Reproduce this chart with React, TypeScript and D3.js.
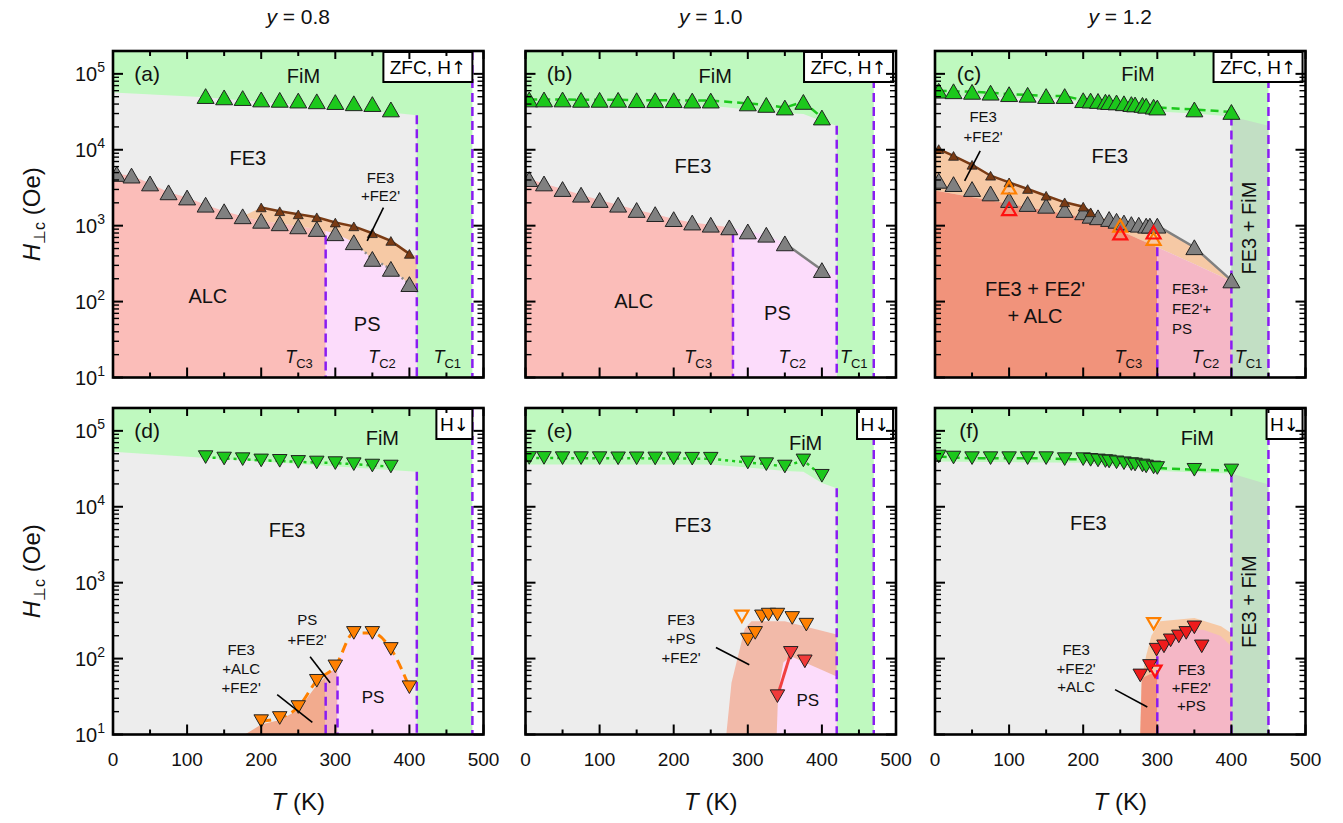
import React from "react";
import * as d3 from "d3";

type Pt = [number, number];

const FONT = "'Liberation Sans', Arial, Helvetica, sans-serif";
const ARROW_FONT = "'DejaVu Sans', sans-serif";
const H_MIN = 10;
const H_MAX = 2e5;

const columnTitles = ["0.8", "1.0", "1.2"];
const xTicks = [0, 100, 200, 300, 400, 500];
const yDecades = [1, 2, 3, 4, 5];

// ---------- y = 0.8, ZFC H-up ----------
const aGreenT = [125, 150, 175, 200, 225, 250, 275, 300, 325, 350, 375];
const aGreenH = [51000, 49000, 48000, 46000, 45500, 44500, 43500, 42500, 41000, 40000, 34000];
const aGrayT = [5, 25, 50, 75, 100, 125, 150, 175, 200, 225, 250, 275, 300, 325, 350, 375, 400];
const aGrayH = [4800, 4570, 3600, 2750, 2350, 1890, 1550, 1330, 1160, 1075, 980, 905, 795, 605, 365, 270, 170];
const aBrownT = [200, 225, 250, 275, 300, 325, 350, 375, 400];
const aBrownH = [1740, 1550, 1410, 1290, 1100, 980, 795, 630, 425];

// ---------- y = 1.0, ZFC H-up ----------
const bGreenT = [5, 25, 50, 75, 100, 125, 150, 175, 200, 225, 250, 300, 325, 350, 375, 400];
const bGreenH = [46000, 46000, 46000, 45500, 45500, 45500, 45000, 45000, 45000, 44500, 44500, 40800, 39000, 36000, 42700, 26600];
const bGrayT = [5, 25, 50, 75, 100, 125, 150, 175, 200, 225, 250, 275, 300, 325, 350, 400];
const bGrayH = [4110, 3600, 3040, 2560, 2180, 1890, 1610, 1420, 1220, 1100, 1030, 950, 840, 760, 585, 260];

// ---------- y = 1.2, ZFC H-up ----------
const cGreenT = [5, 25, 50, 75, 100, 125, 150, 175, 200, 210, 220, 230, 235, 245, 255, 265, 270, 280, 285, 295, 300, 350, 400];
const cGreenH = [60000, 59000, 58000, 56500, 54000, 53000, 51000, 51000, 45000, 44500, 44000, 43000, 42500, 42000, 41000, 40000, 39500, 39000, 38000, 37000, 36000, 34000, 31500];
const cGrayT = [5, 25, 50, 75, 100, 125, 150, 175, 200, 210, 220, 235, 245, 255, 265, 275, 285, 290, 300, 350, 400];
const cGrayH = [3900, 3530, 3040, 2660, 2180, 1930, 1830, 1610, 1500, 1350, 1290, 1225, 1160, 1100, 1050, 1030, 1000, 1000, 1000, 520, 190];
const cBrownT = [5, 25, 50, 75, 100, 125, 150, 175, 200, 210];
const cBrownH = [10200, 8300, 6340, 4550, 3720, 3040, 2480, 2030, 1780, 1500];
const cOpenOrangeT = [100, 250, 295];
const cOpenOrangeH = [3190, 1000, 670];
const cOpenRedT = [100, 250, 295];
const cOpenRedH = [1660, 795, 815];

// ---------- y = 0.8, H-down ----------
const dGreenT = [125, 150, 175, 200, 225, 250, 275, 300, 325, 350, 375];
const dGreenH = [45100, 43200, 42400, 40800, 40300, 39000, 38300, 37600, 36400, 34900, 33900];
const dOrangeT = [200, 225, 250, 275, 300, 325, 350, 375, 400];
const dOrangeH = [15, 16.5, 23, 51, 79, 218, 218, 134, 42];

// ---------- y = 1.0, H-down ----------
const eGreenT = [5, 25, 50, 75, 100, 125, 150, 175, 200, 225, 250, 300, 325, 350, 375, 400];
const eGreenH = [44000, 44000, 43700, 43700, 43700, 43500, 43500, 43300, 43300, 43000, 43000, 38300, 36400, 33900, 40800, 25600];
const eOrangeT = [300, 310, 319, 328, 340, 360, 379];
const eOrangeH = [178, 218, 360, 380, 380, 343, 280];
const eOpenOrangeT = [292];
const eOpenOrangeH = [360];
const eRedT = [340, 358, 377];
const eRedH = [32, 119, 92];

// ---------- y = 1.2, H-down ----------
const fGreenT = cGreenT;
const fGreenH = [45900, 44500, 43700, 43700, 43700, 43700, 43700, 42400, 42400, 41500, 40800, 40000, 39500, 38500, 37500, 36500, 36000, 35000, 34000, 33000, 32400, 30700, 30100];
const fRedT = [277, 290, 299, 309, 318, 329, 339, 350, 360];
const fRedH = [60, 80, 131, 145, 174, 196, 218, 258, 145];
const fOpenOrangeT = [295];
const fOpenOrangeH = [288];
const fOpenRedT = [297];
const fOpenRedH = [68];

const zip = (t: number[], h: number[]): Pt[] => t.map((v, i) => [v, h[i]] as Pt);

// ---------- phase boundaries (T, H) ----------
const aFimEdge: Pt[] = [[0, 57000], [125, 49000], [375, 31000], [410, 28500]];
const aGrayEdge: Pt[] = [[0, 4600], ...zip(aGrayT, aGrayH), [410, 150]];
const aBrownEdge: Pt[] = [[175, 1330], ...zip(aBrownT, aBrownH), [410, 400]];

const bFimEdge: Pt[] = [[0, 38000], [250, 38000], [300, 34000], [350, 30500], [375, 29600], [400, 24000], [420, 20700]];
const bGrayEdge: Pt[] = [[0, 4300], ...zip(bGrayT, bGrayH), [420, 220]];

const cFimEdge: Pt[] = [[0, 52000], [100, 49000], [175, 46000], [200, 42000], [250, 38000], [300, 32000], [350, 30000], [400, 27500], [450, 20700]];
const cBandTop: Pt[] = [[0, 11000], ...zip(cBrownT, cBrownH), ...zip(cGrayT, cGrayH).filter((p) => p[0] > 210)];
const cBandBottom: Pt[] = [[0, 2900], [100, 1950], [200, 1290], [250, 860], [300, 520], [350, 313], [400, 185]];

const dFimEdge: Pt[] = [[0, 53000], [410, 29000]];
const dSalmonEdge: Pt[] = [[178, 10], [200, 13.5], [225, 15.5], [250, 21], [275, 45], [287, 58]];
const dStripEdge: Pt[] = [[287, 58], [303, 80]];
const dPsEdge: Pt[] = [[303, 95], [325, 210], [350, 210], [375, 130], [400, 42], [407, 20], [410, 10]];

const eFimEdge: Pt[] = [[0, 36000], [250, 36000], [300, 33000], [350, 29500], [375, 29000], [400, 20500], [420, 17600]];
const eOuterEdge: Pt[] = [[271, 10], [278, 48], [288, 120], [296, 250], [305, 310], [350, 310], [376, 266], [420, 207]];
const eInnerEdge: Pt[] = [[339, 10], [341, 36], [348, 89], [358, 107], [420, 58]];

const fFimEdge: Pt[] = [[0, 39500], [200, 38000], [300, 29500], [400, 27500], [450, 19600]];
const fCapEdge: Pt[] = [[277, 10], [279, 55], [285, 110], [292, 200], [304, 310], [350, 343], [386, 266], [400, 215]];
const fSalmonEdge: Pt[] = [[277, 10], [279, 55], [290, 62], [300, 65]];
const fPinkEdge: Pt[] = [[300, 145], [320, 200], [340, 240], [362, 240], [385, 200], [400, 145]];

// ---------- geometry helpers in data space ----------
function edgeAt(edge: Pt[], t: number): number {
  if (t <= edge[0][0]) return edge[0][1];
  for (let i = 1; i < edge.length; i++) {
    const [t1, h1] = edge[i - 1];
    const [t2, h2] = edge[i];
    if (t <= t2) {
      const f = t2 === t1 ? 1 : (t - t1) / (t2 - t1);
      return Math.pow(10, Math.log10(h1) + f * (Math.log10(h2) - Math.log10(h1)));
    }
  }
  return edge[edge.length - 1][1];
}
function clipEdge(edge: Pt[], t0: number, t1: number): Pt[] {
  return [[t0, edgeAt(edge, t0)], ...edge.filter((p) => p[0] > t0 && p[0] < t1), [t1, edgeAt(edge, t1)]];
}
const under = (edge: Pt[], t0: number, t1: number): Pt[] => [[t0, H_MIN], ...clipEdge(edge, t0, t1), [t1, H_MIN]];
const between = (up: Pt[], lo: Pt[], t0: number, t1: number): Pt[] => [...clipEdge(up, t0, t1), ...clipEdge(lo, t0, t1).reverse()];
const slab = (t0: number, t1: number): Pt[] => [[t0, H_MIN], [t0, H_MAX], [t1, H_MAX], [t1, H_MIN]];

const C = {
  fim: "#bff9bf",
  fe3: "#ededed",
  alc: "#fbbdb9",
  ps: "#fcdcfb",
  band: "#f6c9a5",
  mixAlc: "#f1937b",
  mixPs: "#f5b7c6",
  fe3Fim: "#c2dfc4",
  dSalmon: "#f2ab8e",
  dStrip: "#f3b6bd",
  eArch: "#f2baa9",
  white: "#ffffff",
  tc: "#8a1cf2",
  green: "#1cc81c",
  gray: "#808080",
  brown: "#7a3b14",
  orange: "#ff8000",
  red: "#f03a3a",
  red2: "#ee1c1c",
};

interface Region { c: string; p: Pt[] }
interface Conn { pts: Pt[]; color: string; width: number; dash?: string; curve?: boolean }
interface Marker { pts: Pt[]; up: boolean; w: number; fill: string; stroke: string; sw: number }
interface Label { t: number; h: number; lines: string[]; size: number; lh?: number; anchor?: string; rotate?: boolean }
interface PanelSpec {
  col: number;
  row: number;
  letter: string;
  boxText: string;
  boxArrow: string;
  boxRight: number;
  boxW: number;
  regions: Region[];
  tc: Pt[];
  conns: Conn[];
  markers: Marker[];
  labels: Label[];
  leaders: Pt[][];
  tcLabels: [number, string][];
}

const big = (pts: Pt[], fill: string): Marker => ({ pts, up: true, w: 17, fill, stroke: "#222", sw: 1 });
const small = (pts: Pt[], fill: string): Marker => ({ pts, up: true, w: 10, fill, stroke: "#222", sw: 0.8 });
const down = (pts: Pt[], fill: string): Marker => ({ pts, up: false, w: 14.5, fill, stroke: "#222", sw: 1 });
const openUp = (pts: Pt[], color: string): Marker => ({ pts, up: true, w: 14, fill: "none", stroke: color, sw: 2.2 });
const openDown = (pts: Pt[], color: string): Marker => ({ pts, up: false, w: 13, fill: "none", stroke: color, sw: 2.2 });

const aGray = zip(aGrayT, aGrayH);
const bGray = zip(bGrayT, bGrayH);
const cGray = zip(cGrayT, cGrayH);

const panels: PanelSpec[] = [
  {
    col: 0, row: 0, letter: "(a)", boxText: "ZFC, H", boxArrow: "\u2191", boxRight: 485, boxW: 89,
    regions: [
      { c: C.fim, p: slab(0, 500) },
      { c: C.white, p: slab(485, 500) },
      { c: C.fe3, p: under(aFimEdge, 0, 410) },
      { c: C.alc, p: under(aGrayEdge, 0, 287) },
      { c: C.ps, p: under(aGrayEdge, 287, 410) },
      { c: C.band, p: between(aBrownEdge, aGrayEdge, 175, 410) },
    ],
    tc: [[287, 740], [410, 28500], [485, H_MAX]],
    conns: [
      { pts: zip(aBrownT, aBrownH), color: C.brown, width: 2.5 },
      { pts: aGray.filter((p) => p[0] >= 325), color: "#8c8c8c", width: 2.5, dash: "2,3" },
    ],
    markers: [big(zip(aGreenT, aGreenH), C.green), big(aGray, C.gray), small(zip(aBrownT, aBrownH), C.brown)],
    labels: [
      { t: 257, h: 9.4e4, lines: ["FiM"], size: 20 },
      { t: 182, h: 7850, lines: ["FE3"], size: 20 },
      { t: 361, h: 4300, lines: ["FE3", "+FE2'"], size: 15, lh: 18 },
      { t: 128, h: 120, lines: ["ALC"], size: 20 },
      { t: 343, h: 51, lines: ["PS"], size: 20 },
    ],
    leaders: [[[365, 1725], [343, 630]]],
    tcLabels: [[251, "C3"], [363, "C2"], [451, "C1"]],
  },
  {
    col: 1, row: 0, letter: "(b)", boxText: "ZFC, H", boxArrow: "\u2191", boxRight: 496, boxW: 89,
    regions: [
      { c: C.fim, p: slab(0, 500) },
      { c: C.white, p: slab(470, 500) },
      { c: C.fe3, p: under(bFimEdge, 0, 420) },
      { c: C.alc, p: under(bGrayEdge, 0, 280) },
      { c: C.ps, p: under(bGrayEdge, 280, 420) },
    ],
    tc: [[280, 780], [420, 20700], [470, H_MAX]],
    conns: [
      { pts: zip(bGreenT, bGreenH), color: C.green, width: 2.5, dash: "8,5" },
      { pts: bGray.filter((p) => p[0] >= 350), color: "#808080", width: 2.5 },
    ],
    markers: [big(zip(bGreenT, bGreenH), C.green), big(bGray, C.gray)],
    labels: [
      { t: 256, h: 9.4e4, lines: ["FiM"], size: 20 },
      { t: 226, h: 6170, lines: ["FE3"], size: 20 },
      { t: 146, h: 103, lines: ["ALC"], size: 20 },
      { t: 340, h: 72, lines: ["PS"], size: 20 },
    ],
    leaders: [],
    tcLabels: [[233, "C3"], [360, "C2"], [443, "C1"]],
  },
  {
    col: 2, row: 0, letter: "(c)", boxText: "ZFC, H", boxArrow: "\u2191", boxRight: 496, boxW: 89,
    regions: [
      { c: C.fim, p: slab(0, 500) },
      { c: C.white, p: slab(450, 500) },
      { c: C.fe3, p: under(cFimEdge, 0, 400) },
      { c: C.fe3Fim, p: under(cFimEdge, 400, 450) },
      { c: C.band, p: between(cBandTop, cBandBottom, 0, 400) },
      { c: C.mixAlc, p: under(cBandBottom, 0, 300) },
      { c: C.mixPs, p: under(cBandBottom, 300, 400) },
    ],
    tc: [[300, 520], [400, 27500], [450, H_MAX]],
    conns: [
      { pts: zip(cGreenT, cGreenH), color: C.green, width: 2.5, dash: "8,5" },
      { pts: zip(cBrownT, cBrownH), color: C.brown, width: 2.5 },
      { pts: cGray.filter((p) => p[0] >= 300), color: "#808080", width: 2.5 },
    ],
    markers: [
      big(zip(cGreenT, cGreenH), C.green),
      big(cGray, C.gray),
      small(zip(cBrownT, cBrownH), C.brown),
      openUp(zip(cOpenOrangeT, cOpenOrangeH), C.orange),
      openUp(zip(cOpenRedT, cOpenRedH), "#ff1010"),
    ],
    labels: [
      { t: 274, h: 1e5, lines: ["FiM"], size: 20 },
      { t: 236, h: 8300, lines: ["FE3"], size: 20 },
      { t: 65, h: 27000, lines: ["FE3", "+FE2'"], size: 15, lh: 20 },
      { t: 135, h: 148, lines: ["FE3 + FE2'", "+ ALC"], size: 20, lh: 27 },
      { t: 320, h: 148, lines: ["FE3+", "FE2'+", "PS"], size: 15, lh: 20, anchor: "start" },
      { t: 423, h: 930, lines: ["FE3 + FiM"], size: 20, rotate: true },
    ],
    leaders: [[[61, 9700], [40, 3900]]],
    tcLabels: [[261, "C3"], [365, "C2"], [423, "C1"]],
  },
  {
    col: 0, row: 1, letter: "(d)", boxText: "H", boxArrow: "\u2193", boxRight: 485, boxW: 36,
    regions: [
      { c: C.fim, p: slab(0, 500) },
      { c: C.white, p: slab(485, 500) },
      { c: C.fe3, p: under(dFimEdge, 0, 410) },
      { c: C.dSalmon, p: under(dSalmonEdge, 178, 287) },
      { c: C.dStrip, p: under(dStripEdge, 287, 303) },
      { c: C.ps, p: under(dPsEdge, 303, 410) },
    ],
    tc: [[287, 48], [303, 58], [410, 29000], [485, H_MAX]],
    conns: [
      { pts: zip(dGreenT, dGreenH), color: C.green, width: 2.5, dash: "3,4" },
      { pts: zip(dOrangeT, dOrangeH), color: C.orange, width: 3, dash: "10,6", curve: true },
    ],
    markers: [down(zip(dGreenT, dGreenH), C.green), down(zip(dOrangeT, dOrangeH), C.orange)],
    labels: [
      { t: 363.5, h: 81000, lines: ["FiM"], size: 20 },
      { t: 235, h: 4980, lines: ["FE3"], size: 20 },
      { t: 262, h: 326, lines: ["PS", "+FE2'"], size: 15, lh: 20 },
      { t: 173, h: 131, lines: ["FE3", "+ALC", "+FE2'"], size: 15, lh: 19 },
      { t: 351, h: 31.6, lines: ["PS"], size: 17 },
    ],
    leaders: [[[266, 106], [293, 48]], [[221.6, 33.6], [269, 14.4]]],
    tcLabels: [],
  },
  {
    col: 1, row: 1, letter: "(e)", boxText: "H", boxArrow: "\u2193", boxRight: 496, boxW: 36,
    regions: [
      { c: C.fim, p: slab(0, 500) },
      { c: C.white, p: slab(470, 500) },
      { c: C.fe3, p: under(eFimEdge, 0, 420) },
      { c: C.eArch, p: under(eOuterEdge, 271, 420) },
      { c: C.ps, p: under(eInnerEdge, 339, 420) },
    ],
    tc: [[420, 17600], [470, H_MAX]],
    conns: [
      { pts: zip(eGreenT, eGreenH), color: C.green, width: 2.5, dash: "3,4" },
      { pts: zip(eRedT, eRedH).slice(0, 2), color: "#f04040", width: 3 },
    ],
    markers: [
      down(zip(eGreenT, eGreenH), C.green),
      down(zip(eOrangeT, eOrangeH), C.orange),
      openDown(zip(eOpenOrangeT, eOpenOrangeH), C.orange),
      down(zip(eRedT, eRedH), C.red),
    ],
    labels: [
      { t: 378, h: 69500, lines: ["FiM"], size: 20 },
      { t: 226, h: 5800, lines: ["FE3"], size: 20 },
      { t: 210, h: 326, lines: ["FE3", "+PS", "+FE2'"], size: 15, lh: 19 },
      { t: 381, h: 29, lines: ["PS"], size: 17 },
    ],
    leaders: [[[257, 140], [302, 83]]],
    tcLabels: [],
  },
  {
    col: 2, row: 1, letter: "(f)", boxText: "H", boxArrow: "\u2193", boxRight: 496, boxW: 36,
    regions: [
      { c: C.fim, p: slab(0, 500) },
      { c: C.white, p: slab(450, 500) },
      { c: C.fe3, p: under(fFimEdge, 0, 400) },
      { c: C.fe3Fim, p: under(fFimEdge, 400, 450) },
      { c: C.band, p: under(fCapEdge, 277, 400) },
      { c: C.mixAlc, p: under(fSalmonEdge, 277, 300) },
      { c: C.mixPs, p: under(fPinkEdge, 300, 400) },
    ],
    tc: [[300, 107], [400, 27500], [450, H_MAX]],
    conns: [{ pts: zip(fGreenT, fGreenH), color: C.green, width: 2.5, dash: "8,5" }],
    markers: [
      down(zip(fGreenT, fGreenH), C.green),
      down(zip(fRedT, fRedH), C.red2),
      openDown(zip(fOpenOrangeT, fOpenOrangeH), C.orange),
      openDown(zip(fOpenRedT, fOpenRedH), "#ff1010"),
    ],
    labels: [
      { t: 354, h: 81000, lines: ["FiM"], size: 20 },
      { t: 207, h: 6170, lines: ["FE3"], size: 20 },
      { t: 190.5, h: 131, lines: ["FE3", "+FE2'", "+ALC"], size: 15, lh: 18.5 },
      { t: 346, h: 72, lines: ["FE3", "+FE2'", "+PS"], size: 15, lh: 18 },
      { t: 423, h: 562, lines: ["FE3 + FiM"], size: 20, rotate: true },
    ],
    leaders: [[[243, 39], [286.5, 23]]],
    tcLabels: [],
  },
];

const PANEL_LEFT = [113, 525.5, 935];
const PANEL_TOP = [51, 408];
const PW = 370.5;
const PH = 326.5;

function triPath(w: number, up: boolean): string {
  const h = w * 0.87;
  return up
    ? `M0,${-h / 2}L${w / 2},${h / 2}L${-w / 2},${h / 2}Z`
    : `M0,${h / 2}L${w / 2},${-h / 2}L${-w / 2},${-h / 2}Z`;
}

function Panel({ spec }: { spec: PanelSpec }) {
  const left = PANEL_LEFT[spec.col];
  const top = PANEL_TOP[spec.row];
  const x = d3.scaleLinear().domain([0, 500]).range([0, PW]);
  const y = d3.scaleLog().domain([H_MIN, H_MAX]).range([PH, 0]);
  const poly = d3.line<Pt>().x((d) => x(d[0])).y((d) => y(d[1]));
  const smooth = d3.line<Pt>().x((d) => x(d[0])).y((d) => y(d[1])).curve(d3.curveMonotoneX);
  const clipId = `clip-${spec.letter.replace(/[()]/g, "")}`;

  const minorY: number[] = [];
  for (let n = 1; n <= 4; n++) for (let k = 2; k <= 9; k++) minorY.push(k * Math.pow(10, n));
  const majorY = yDecades.map((n) => Math.pow(10, n));
  const xMajor = d3.range(0, 501, 100);
  const xMinor = d3.range(50, 500, 100);

  const boxX = x(spec.boxRight) - spec.boxW;

  return (
    <g transform={`translate(${left},${top})`}>
      <defs>
        <clipPath id={clipId}>
          <rect x={0} y={0} width={PW} height={PH} />
        </clipPath>
      </defs>
      <g clipPath={`url(#${clipId})`}>
        {spec.regions.map((r, i) => (
          <path key={`r${i}`} d={poly(r.p) + "Z"} fill={r.c} stroke="none" />
        ))}
        {spec.tc.map(([t, from], i) => (
          <line key={`tc${i}`} x1={x(t)} x2={x(t)} y1={y(from)} y2={PH} stroke={C.tc} strokeWidth={2.5} strokeDasharray="9,5" />
        ))}
        {spec.conns.map((c, i) => (
          <path
            key={`c${i}`}
            d={(c.curve ? smooth(c.pts) : poly(c.pts)) || ""}
            fill="none"
            stroke={c.color}
            strokeWidth={c.width}
            strokeDasharray={c.dash}
          />
        ))}
        {spec.markers.map((m, i) =>
          m.pts.map((p, j) => (
            <path
              key={`m${i}-${j}`}
              d={triPath(m.w, m.up)}
              transform={`translate(${x(p[0])},${y(p[1])})`}
              fill={m.fill}
              stroke={m.stroke}
              strokeWidth={m.sw}
              strokeLinejoin="miter"
            />
          ))
        )}
      </g>
      {spec.leaders.map((l, i) => (
        <line key={`l${i}`} x1={x(l[0][0])} y1={y(l[0][1])} x2={x(l[1][0])} y2={y(l[1][1])} stroke="#000" strokeWidth={1.6} />
      ))}
      {spec.labels.map((lb, i) => {
        const cx = x(lb.t);
        const cy = y(lb.h);
        if (lb.rotate) {
          return (
            <text key={`t${i}`} transform={`translate(${cx + lb.size * 0.36},${cy}) rotate(-90)`} textAnchor="middle" fontSize={lb.size} fontFamily={FONT} fill="#111">
              {lb.lines[0]}
            </text>
          );
        }
        const lh = lb.lh || lb.size * 1.2;
        return (
          <text key={`t${i}`} x={cx} y={cy + lb.size * 0.36} textAnchor={lb.anchor || "middle"} fontSize={lb.size} fontFamily={FONT} fill="#111">
            {lb.lines.map((s, k) => (
              <tspan key={k} x={cx} dy={k === 0 ? 0 : lh}>
                {s}
              </tspan>
            ))}
          </text>
        );
      })}
      {spec.tcLabels.map(([t, sub], i) => (
        <text key={`tcl${i}`} x={x(t)} y={y(15.3)} textAnchor="middle" fontSize={18} fontFamily={FONT} fill="#111">
          <tspan fontStyle="italic">T</tspan>
          <tspan fontSize={13} dy={5}>
            {sub}
          </tspan>
        </text>
      ))}
      <text x={x(46)} y={y(1e5) + 7.5} textAnchor="middle" fontSize={21} fontFamily={FONT} fill="#111">
        {spec.letter}
      </text>
      <rect x={boxX} y={1} width={spec.boxW} height={30} fill="#fff" stroke="#000" strokeWidth={2} />
      <text x={boxX + spec.boxW / 2} y={23} textAnchor="middle" fontSize={19} fontFamily={FONT} fill="#000">
        <tspan>{spec.boxText}</tspan>
        <tspan fontFamily={ARROW_FONT} fontSize={18}>
          {spec.boxArrow}
        </tspan>
      </text>
      {majorY.map((v) => (
        <g key={`my${v}`}>
          <line x1={0} x2={10} y1={y(v)} y2={y(v)} stroke="#000" strokeWidth={2} />
          <line x1={PW - 10} x2={PW} y1={y(v)} y2={y(v)} stroke="#000" strokeWidth={2} />
        </g>
      ))}
      {minorY.map((v) => (
        <g key={`ny${v}`}>
          <line x1={0} x2={6} y1={y(v)} y2={y(v)} stroke="#000" strokeWidth={1.4} />
          <line x1={PW - 6} x2={PW} y1={y(v)} y2={y(v)} stroke="#000" strokeWidth={1.4} />
        </g>
      ))}
      {xMajor.map((v) => (
        <g key={`mx${v}`}>
          <line x1={x(v)} x2={x(v)} y1={PH} y2={PH - 10} stroke="#000" strokeWidth={2} />
          <line x1={x(v)} x2={x(v)} y1={0} y2={8} stroke="#000" strokeWidth={2} />
        </g>
      ))}
      {xMinor.map((v) => (
        <g key={`nx${v}`}>
          <line x1={x(v)} x2={x(v)} y1={PH} y2={PH - 5} stroke="#000" strokeWidth={2} />
          <line x1={x(v)} x2={x(v)} y1={0} y2={5} stroke="#000" strokeWidth={2} />
        </g>
      ))}
      <rect x={0} y={0} width={PW} height={PH} fill="none" stroke="#000" strokeWidth={2.6} />
      {spec.col === 0 &&
        yDecades.map((n) => (
          <text key={`yl${n}`} x={-8} y={y(Math.pow(10, n)) + 7} textAnchor="end" fontSize={20} fontFamily={FONT} fill="#111">
            <tspan>10</tspan>
            <tspan fontSize={14} dy={-9}>
              {n}
            </tspan>
          </text>
        ))}
      {spec.row === 1 &&
        xTicks.map((v) => (
          <text key={`xl${v}`} x={x(v)} y={PH + 31} textAnchor="middle" fontSize={19} fontFamily={FONT} fill="#111">
            {v}
          </text>
        ))}
      {spec.row === 1 && (
        <text x={PW / 2} y={PH + 75} textAnchor="middle" fontSize={24} fontFamily={FONT} fill="#111">
          <tspan fontStyle="italic">T</tspan>
          <tspan> (K)</tspan>
        </text>
      )}
      {spec.row === 0 && (
        <text x={PW / 2} y={-27} textAnchor="middle" fontSize={21} fontFamily={FONT} fill="#111">
          <tspan fontStyle="italic">y</tspan>
          <tspan>{` = ${columnTitles[spec.col]}`}</tspan>
        </text>
      )}
      {spec.col === 0 && (
        <text transform={`translate(-73,${PH / 2}) rotate(-90)`} textAnchor="middle" fontSize={24} fontFamily={FONT} fill="#111">
          <tspan fontStyle="italic">H</tspan>
          <tspan fontSize={16} dy={5}>{"\u22A5c"}</tspan>
          <tspan dy={-5}>{" (Oe)"}</tspan>
        </text>
      )}
    </g>
  );
}

export default function App() {
  return (
    <svg
      width={1343}
      height={823}
      viewBox="0 0 1343 823"
      style={{ position: "absolute", left: 0, top: 0, background: "#fff" }}
    >
      <rect x={0} y={0} width={1343} height={823} fill="#fff" />
      {panels.map((p) => (
        <Panel key={p.letter} spec={p} />
      ))}
    </svg>
  );
}
